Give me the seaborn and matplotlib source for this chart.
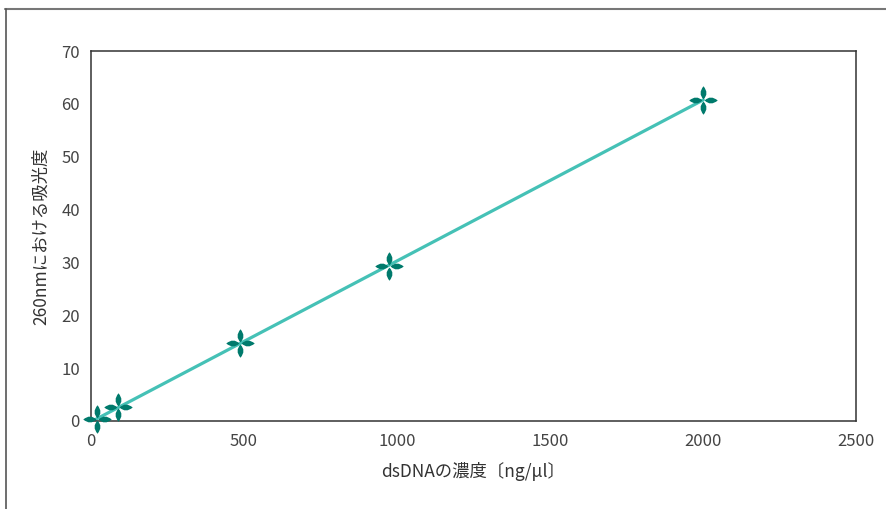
import numpy as np
import pandas as pd
import matplotlib
matplotlib.use("Agg")
import matplotlib.pyplot as plt
from matplotlib.path import Path
from matplotlib.lines import Line2D
import seaborn as sns

# values
conc = [18, 88, 487, 974, 2001]
absorb = [0.3, 2.6, 14.8, 29.3, 60.8]
x_ticks = [0, 500, 1000, 1500, 2000, 2500]
y_ticks = [0, 10, 20, 30, 40, 50, 60, 70]
x_label = "dsDNAの濃度〔ng/μl〕"
y_label = "260nmにおける吸光度"

df = pd.DataFrame({"conc": conc, "abs": absorb})

# fitted line
k, b = np.polyfit(df["conc"], df["abs"], 1)
fit_x = np.array([-28, df["conc"].max()])
fit = pd.DataFrame({"conc": fit_x, "abs": k * fit_x + b})


def petal_star(r0=0.08, w=0.42):
    verts, codes = [], []
    for ang in [0, 90, 180, 270]:
        t = np.deg2rad(ang)
        d = np.array([np.cos(t), np.sin(t)])
        n = np.array([-d[1], d[0]])
        p0 = d * r0
        p1 = d * 1.0
        c1 = d * 0.5 + n * w
        c2 = d * 0.5 - n * w
        verts += [p0, c1, p1, c2, p0, p0]
        codes += [Path.MOVETO, Path.CURVE3, Path.CURVE3, Path.CURVE3, Path.CURVE3, Path.CLOSEPOLY]
    return Path(verts, codes)


sns.set_style("white")
plt.rcParams["font.family"] = ["Noto Sans CJK JP", "DejaVu Sans"]

fig = plt.figure(figsize=(8.87, 5.09), dpi=100)
ax = fig.add_axes([0.1026, 0.1729, 0.8624, 0.7269])

sns.lineplot(data=fit, x="conc", y="abs", ax=ax, color="#45c1b6", linewidth=2.3, zorder=2)
sns.scatterplot(data=df, x="conc", y="abs", ax=ax, marker=petal_star(), s=420,
                color="#007a6c", linewidth=0, zorder=3, clip_on=False)

ax.set_xlim(0, 2500)
ax.set_ylim(0, 70)
ax.set_xticks(x_ticks)
ax.set_yticks(y_ticks)
ax.tick_params(axis="x", direction="in", length=6, width=1, colors="#333333",
               labelcolor="#444444", labelsize=12, pad=9)
ax.tick_params(axis="y", direction="out", length=5, width=1, colors="#333333",
               labelcolor="#444444", labelsize=12, pad=3)
for sp in ax.spines.values():
    sp.set_color("#333333")
    sp.set_linewidth(1.1)
    sp.set_visible(True)

ax.set_xlabel(x_label, fontsize=12.5, color="#333333", labelpad=8)
ax.set_ylabel(y_label, fontsize=12.5, color="#333333", labelpad=8)

# outer frame
fig.add_artist(Line2D([0.006, 1.0], [0.982, 0.982], transform=fig.transFigure,
                      color="#777777", linewidth=1.5))
fig.add_artist(Line2D([0.007, 0.007], [0.0, 0.982], transform=fig.transFigure,
                      color="#555555", linewidth=1.2))

fig.savefig("out.png", dpi=100)
